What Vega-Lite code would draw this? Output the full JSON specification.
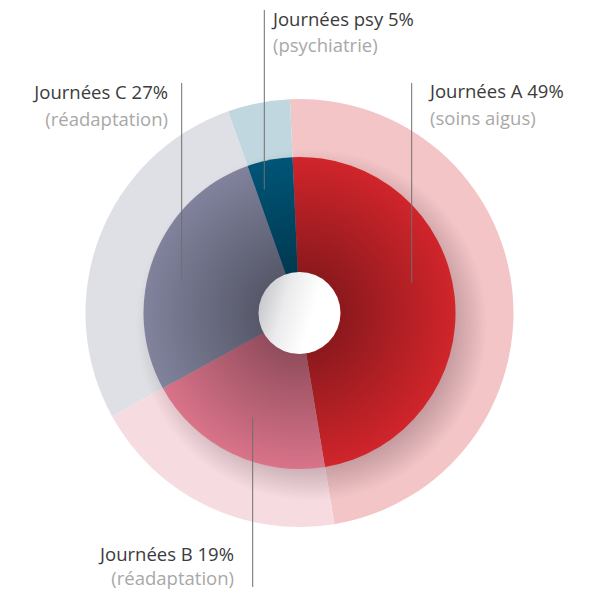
{
  "$schema": "https://vega.github.io/schema/vega-lite/v6.json",
  "width": 600,
  "height": 600,
  "padding": 0,
  "autosize": {"type": "fit", "contains": "padding"},
  "background": "#ffffff",
  "config": {"view": {"stroke": null}},
  "datasets": {
    "segments": [
      {"seg": "A", "part": 48.1},
      {"seg": "B", "part": 19.6},
      {"seg": "C", "part": 27.6},
      {"seg": "psy", "part": 4.7}
    ],
    "disque": [{"forme": "disque"}],
    "etiquettes": [
      {"seg": "A", "titre": "Journées A 49%", "sous": "(soins aigus)", "cote": "g", "tx": 65.25, "ty": 107.5, "sy": 94.25, "lx": 56.1, "ly1": 115, "ly2": 15},
      {"seg": "psy", "titre": "Journées psy 5%", "sous": "(psychiatrie)", "cote": "g", "tx": -13.25, "ty": 143.5, "sy": 130.75, "lx": -17.6, "ly1": 151.5, "ly2": 61.75},
      {"seg": "C", "titre": "Journées C 27%", "sous": "(réadaptation)", "cote": "d", "tx": -65.75, "ty": 107, "sy": 93.75, "lx": -58.9, "ly1": 115, "ly2": 15.65},
      {"seg": "B", "titre": "Journées B 19%", "sous": "(réadaptation)", "cote": "d", "tx": -32.75, "ty": -124, "sy": -135.75, "lx": -23.4, "ly1": -52, "ly2": -137}
    ]
  },
  "resolve": {"scale": {"color": "independent"}},
  "layer": [
    {
      "data": {"name": "segments"},
      "mark": {"type": "arc", "radius": 214},
      "encoding": {
        "x": {"datum": 0, "type": "quantitative", "scale": {"domain": [-149.75, 150.25], "nice": false, "zero": false}, "axis": null},
        "y": {"datum": 0, "type": "quantitative", "scale": {"domain": [-143.5, 156.5], "nice": false, "zero": false}, "axis": null},
        "theta": {"field": "part", "type": "quantitative", "stack": true, "scale": {"range": [-0.0445, 6.2387], "nice": false, "zero": true}},
        "color": {"field": "seg", "type": "nominal", "scale": {"domain": ["A", "B", "C", "psy"], "range": ["#f3c5c7", "#f6dce1", "#dfe0e5", "#c1d7e0"]}, "legend": null},
        "order": {"field": "seg"}
      }
    },
    {
      "data": {"name": "disque"},
      "mark": {
        "type": "arc", "radius": 176, "theta": 0, "theta2": 6.2832,
        "fill": {"gradient": "radial", "x1": 0.5, "y1": 0.5, "r1": 0, "x2": 0.5, "y2": 0.5, "r2": 0.5,
          "stops": [
            {"offset": 0, "color": "rgba(70,40,50,0.26)"},
            {"offset": 0.8, "color": "rgba(70,40,50,0.26)"},
            {"offset": 1, "color": "rgba(70,40,50,0)"}
          ]}
      },
      "encoding": {
        "x": {"datum": 6, "type": "quantitative"},
        "y": {"datum": -6, "type": "quantitative"}
      }
    },
    {
      "data": {"name": "segments"},
      "mark": {"type": "arc", "radius": 156},
      "encoding": {
        "x": {"datum": 0, "type": "quantitative"},
        "y": {"datum": 0, "type": "quantitative"},
        "theta": {"field": "part", "type": "quantitative", "stack": true},
        "color": {"field": "seg", "type": "nominal", "scale": {"domain": ["A", "B", "C", "psy"], "range": ["#d0252b", "#d9738a", "#81839d", "#005577"]}, "legend": null},
        "order": {"field": "seg"}
      }
    },
    {
      "data": {"name": "disque"},
      "mark": {
        "type": "arc", "radius": 156, "theta": 0, "theta2": 6.2832,
        "fill": {"gradient": "radial", "x1": 0.5, "y1": 0.5, "r1": 0, "x2": 0.5, "y2": 0.5, "r2": 0.5,
          "stops": [
            {"offset": 0, "color": "rgba(0,0,0,0.36)"},
            {"offset": 0.26, "color": "rgba(0,0,0,0.33)"},
            {"offset": 1, "color": "rgba(0,0,0,0)"}
          ]}
      },
      "encoding": {
        "x": {"datum": 0, "type": "quantitative"},
        "y": {"datum": 0, "type": "quantitative"}
      }
    },
    {
      "data": {"name": "disque"},
      "mark": {
        "type": "arc", "radius": 41, "theta": 0, "theta2": 6.2832,
        "fill": {"gradient": "linear", "x1": 0, "y1": 0.35, "x2": 1, "y2": 0.65,
          "stops": [
            {"offset": 0, "color": "#c6c7cb"},
            {"offset": 0.3, "color": "#ebebed"},
            {"offset": 0.65, "color": "#ffffff"},
            {"offset": 1, "color": "#ffffff"}
          ]}
      },
      "encoding": {
        "x": {"datum": 0, "type": "quantitative"},
        "y": {"datum": 0, "type": "quantitative"}
      }
    },
    {
      "data": {"name": "etiquettes"},
      "mark": {"type": "rule", "color": "#6e6e6e", "strokeWidth": 1},
      "encoding": {
        "x": {"field": "lx", "type": "quantitative"},
        "y": {"field": "ly1", "type": "quantitative"},
        "y2": {"field": "ly2"}
      }
    },
    {
      "data": {"name": "etiquettes"},
      "transform": [{"filter": "datum.cote === 'g'"}],
      "mark": {"type": "text", "align": "left", "baseline": "alphabetic", "font": "Open Sans", "fontSize": 18.5, "color": "#3b3b3b"},
      "encoding": {
        "x": {"field": "tx", "type": "quantitative"},
        "y": {"field": "ty", "type": "quantitative"},
        "text": {"field": "titre"}
      }
    },
    {
      "data": {"name": "etiquettes"},
      "transform": [{"filter": "datum.cote === 'g'"}],
      "mark": {"type": "text", "align": "left", "baseline": "alphabetic", "font": "Open Sans", "fontSize": 18.5, "color": "#a8a8a8"},
      "encoding": {
        "x": {"field": "tx", "type": "quantitative"},
        "y": {"field": "sy", "type": "quantitative"},
        "text": {"field": "sous"}
      }
    },
    {
      "data": {"name": "etiquettes"},
      "transform": [{"filter": "datum.cote === 'd'"}],
      "mark": {"type": "text", "align": "right", "baseline": "alphabetic", "font": "Open Sans", "fontSize": 18.5, "color": "#3b3b3b"},
      "encoding": {
        "x": {"field": "tx", "type": "quantitative"},
        "y": {"field": "ty", "type": "quantitative"},
        "text": {"field": "titre"}
      }
    },
    {
      "data": {"name": "etiquettes"},
      "transform": [{"filter": "datum.cote === 'd'"}],
      "mark": {"type": "text", "align": "right", "baseline": "alphabetic", "font": "Open Sans", "fontSize": 18.5, "color": "#a8a8a8"},
      "encoding": {
        "x": {"field": "tx", "type": "quantitative"},
        "y": {"field": "sy", "type": "quantitative"},
        "text": {"field": "sous"}
      }
    }
  ]
}
